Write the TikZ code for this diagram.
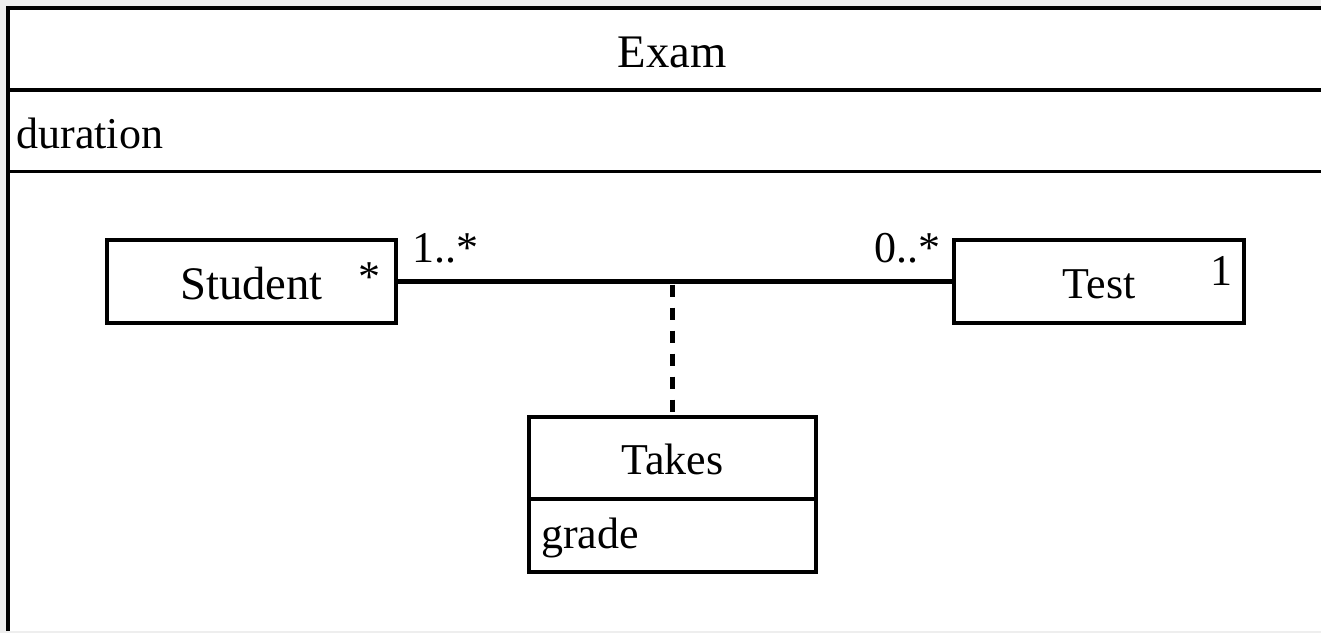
\documentclass[tikz,border=0pt]{standalone}
\usepackage{fontspec}
\setmainfont{Liberation Serif}
\usetikzlibrary{positioning}

\tikzset{every picture/.style={line width=0.75pt}}
\tikzset{
  umlbox/.style={draw, line width=3pt, fill=white, inner sep=0pt, outer sep=0pt, text height=24.75pt, text depth=0pt},
  multlabel/.style={anchor=base, inner sep=0.75pt},
  bigtext/.style={font=\fontsize{35}{42}\selectfont},
}

\begin{document}
\begin{tikzpicture}[x=0.75pt,y=0.75pt,yscale=-1,xscale=1,font=\fontsize{33}{40}\selectfont]
\useasboundingbox (0,0) rectangle (1321,633);

%Background round the frame
\fill [fill={rgb, 255:red, 238; green, 238; blue, 238}] (0,0) rectangle (1321,633);
\fill [white] (8,8) rectangle (1321,631);
%Frame of Exam
\draw [line width=2.5pt] (1321,8) -- (8,8) -- (8,631);
\draw [line width=2.5pt] (8,90) -- (1321,90);
\draw [line width=2.5pt] (8,171.5) -- (1321,171.5);

%Classes
\node [umlbox, bigtext, text height=26.25pt, minimum width=216.75pt, minimum height=62.25pt] (student) at (251.5,281.5) {Student};
\node [umlbox, minimum width=217.5pt, minimum height=62.25pt] (test) at (1099,281.5) {Test};
\node [umlbox, minimum width=215.25pt, minimum height=61.5pt] (takes) at (672.5,458) {Takes};
\node [umlbox, below=0pt of takes, minimum width=215.25pt, minimum height=54.75pt, text width=197.25pt, align=left, inner xsep=9pt, text height=18.75pt] (grade) {grade};

%Association and association class
\draw [line width=3.75pt] (student.east) -- (test.west);
\coordinate (assocmid) at (takes.north |- student.east);
\draw [line width=3.75pt, dash pattern=on 9pt off 8.25pt, dash phase=15pt] (assocmid) -- (takes.north);

% Text Node
\node [multlabel, bigtext] (examname) at (672,67) {Exam};
% Text Node
\node [anchor=base west, inner sep=0pt] (attrduration) at (16,148) {duration};
% Text Node
\node [multlabel] (studentmult) at (369,291) {*};
% Text Node
\node [multlabel] (studentend) at (445,262) {1..*};
% Text Node
\node [multlabel] (testend) at (907.5,262) {0..*};
% Text Node
\node [multlabel] (testmult) at (1221.5,285) {1};

\end{tikzpicture}
\end{document}
